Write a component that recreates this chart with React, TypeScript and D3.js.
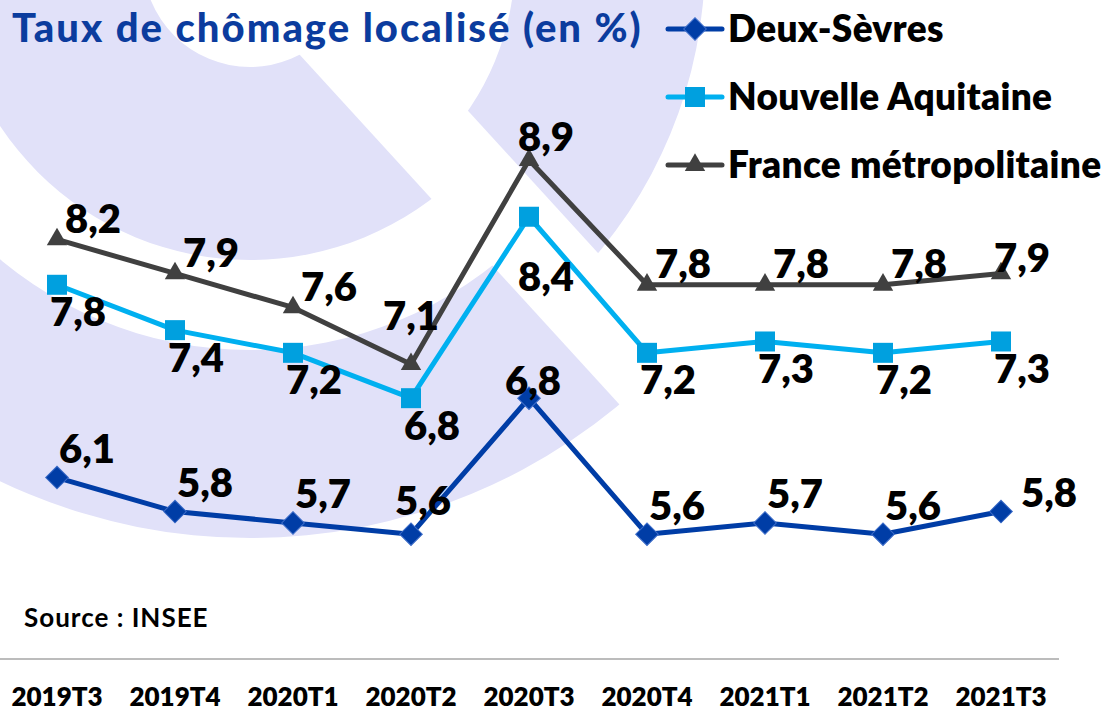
import React, { useRef, useEffect } from "react";
import * as d3 from "d3";

const WIDTH = 1109;
const HEIGHT = 711;
const FONT = "Lato, 'Noto Sans', 'Open Sans', sans-serif";

const COLOR_BG = "#e1e1f9";
const COLOR_TITLE = "#0b3c9e";
const COLOR_AXIS = "#a6a6a6";

// data
const categories = [
  "2019T3",
  "2019T4",
  "2020T1",
  "2020T2",
  "2020T3",
  "2020T4",
  "2021T1",
  "2021T2",
  "2021T3",
];
const deuxSevres = [6.1, 5.8, 5.7, 5.6, 6.8, 5.6, 5.7, 5.6, 5.8];
const nouvelleAquitaine = [7.8, 7.4, 7.2, 6.8, 8.4, 7.2, 7.3, 7.2, 7.3];
const franceMetro = [8.2, 7.9, 7.6, 7.1, 8.9, 7.8, 7.8, 7.8, 7.9];
const seriesNames = ["Deux-Sèvres", "Nouvelle Aquitaine", "France métropolitaine"];

const TITLE = "Taux de chômage localisé (en %)";
const SOURCE = "Source : INSEE";

// styles for each series (label offsets are px, relative to the point)
const SERIES_STYLE = [
  {
    line: "#003da6",
    marker: "#003da6",
    stroke: "#3c6cc8",
    symbol: "diamond",
    labelOffset: [30, -29],
    labelOverrides: { 3: [12, -34], 4: [4, -18], 8: [48, -19] },
  },
  {
    line: "#00b0f0",
    marker: "#00a0df",
    stroke: "none",
    symbol: "square",
    labelOffset: [21, 27],
    labelOverrides: { 4: [17, 60] },
  },
  {
    line: "#404040",
    marker: "#404040",
    stroke: "none",
    symbol: "triangle",
    labelOffset: [36, -21],
    labelOverrides: { 3: [0, -49], 4: [17, -23], 8: [21, -16] },
  },
];

const markerPath = (kind) => {
  if (kind === "square") return d3.symbol(d3.symbolSquare, 400)();
  if (kind === "triangle") return d3.symbol(d3.symbolTriangle, 180)();
  return d3.symbol(d3.symbolSquare, 256)();
};

const addMarker = (g, kind, style, cx, cy) => {
  g.append("path")
    .attr("d", markerPath(kind))
    .attr(
      "transform",
      `translate(${cx},${cy})` + (kind === "diamond" ? " rotate(45)" : "")
    )
    .attr("fill", style.marker)
    .attr("stroke", style.stroke)
    .attr("stroke-width", 1);
};

// the big lavender rings behind the chart
const addBackground = (svg) => {
  const [cx, cy] = [250, -40];
  const cutX = (y) => 300 + (y - 55) / 1.094;
  const gap = 117;

  const defs = svg.append("defs");
  defs
    .append("clipPath")
    .attr("id", "leftCut")
    .append("polygon")
    .attr(
      "points",
      [
        [-20, -20],
        [cutX(-20), -20],
        [cutX(800), 800],
        [-20, 800],
      ].join(" ")
    );
  defs
    .append("clipPath")
    .attr("id", "rightCut")
    .append("polygon")
    .attr(
      "points",
      [
        [cutX(-20) + gap, -20],
        [1200, -20],
        [1200, 800],
        [cutX(800) + gap, 800],
      ].join(" ")
    );

  const ring = d3.arc();
  const rings = [
    { inner: 107, outer: 300, clip: "leftCut" },
    { inner: 390, outer: 578, clip: "leftCut" },
    { inner: 265, outer: 455, clip: "rightCut" },
  ];
  rings.forEach((r) => {
    svg
      .append("g")
      .attr("clip-path", `url(#${r.clip})`)
      .append("path")
      .attr("transform", `translate(${cx},${cy})`)
      .attr(
        "d",
        ring({
          innerRadius: r.inner,
          outerRadius: r.outer,
          startAngle: 0,
          endAngle: 2 * Math.PI,
        })
      )
      .attr("fill", COLOR_BG);
  });
};

export default function App() {
  const chartDomNode = useRef(null);

  useEffect(() => {
    const node = chartDomNode.current;
    if (!node) return;
    node.innerHTML = "";

    const svg = d3
      .select(node)
      .append("svg")
      .attr("width", WIDTH)
      .attr("height", HEIGHT)
      .style("display", "block")
      .style("background", "#ffffff");

    addBackground(svg);

    const x = d3.scaleBand().domain(categories).range([-2, 1060]).padding(0);
    const y = d3.scaleLinear().domain([4.5, 9.5]).range([659, 92]);
    const cx = (c) => x(c) + x.bandwidth() / 2;

    // x axis
    const xAxis = d3.axisBottom(x).tickSize(0).tickPadding(0);
    svg
      .append("g")
      .attr("transform", `translate(0,${y(4.5)})`)
      .call(xAxis)
      .call((g) => {
        g.select(".domain")
          .attr("d", `M0,0H${x.range()[1] - 1}`)
          .attr("stroke", COLOR_AXIS)
          .attr("stroke-width", 1.5);
        g.selectAll(".tick text")
          .attr("y", 47)
          .attr("dy", null)
          .attr("fill", "#000")
          .style("font-family", FONT)
          .style("font-weight", 800)
          .style("font-size", "26px");
      });

    // source
    svg
      .append("text")
      .attr("x", 24)
      .attr("y", 627)
      .style("font-family", FONT)
      .style("font-weight", 700)
      .style("font-size", "26px")
      .style("letter-spacing", "1px")
      .text(SOURCE);

    const allSeries = [deuxSevres, nouvelleAquitaine, franceMetro];
    const line = d3
      .line()
      .x((d, i) => cx(categories[i]))
      .y((d) => y(d));

    allSeries.forEach((values, s) => {
      const style = SERIES_STYLE[s];
      const g = svg.append("g");
      g.append("path")
        .datum(values)
        .attr("fill", "none")
        .attr("stroke", style.line)
        .attr("stroke-width", 5)
        .attr("stroke-linejoin", "round")
        .attr("d", line);
      values.forEach((v, i) => {
        addMarker(g, style.symbol, style, cx(categories[i]), y(v));
      });
    });

    // data labels on top
    allSeries.forEach((values, s) => {
      const style = SERIES_STYLE[s];
      svg
        .append("g")
        .selectAll("text")
        .data(values)
        .enter()
        .append("text")
        .attr("x", (d, i) => cx(categories[i]) + (style.labelOverrides[i] || style.labelOffset)[0])
        .attr("y", (d, i) => y(d) + (style.labelOverrides[i] || style.labelOffset)[1])
        .attr("dy", "0.36em")
        .attr("text-anchor", "middle")
        .style("font-family", FONT)
        .style("font-weight", 800)
        .style("font-size", "40px")
        .text((d) => d3.format(".1f")(d).replace(".", ","));
    });

    // legend
    const legendY = [29, 97, 165];
    seriesNames.forEach((name, s) => {
      const style = SERIES_STYLE[s];
      const g = svg.append("g").attr("transform", `translate(0,${legendY[s]})`);
      g.append("line")
        .attr("x1", 668)
        .attr("x2", 722)
        .attr("stroke", style.line)
        .attr("stroke-width", 5)
        .attr("stroke-linecap", "round");
      addMarker(g, style.symbol, style, 695, 0);
      g.append("text")
        .attr("x", 728)
        .attr("y", 13)
        .style("font-family", FONT)
        .style("font-weight", 800)
        .style("font-size", "37px")
        .style("letter-spacing", "0.3px")
        .text(name);
    });

    // title
    svg
      .append("text")
      .attr("x", 12)
      .attr("y", 42)
      .attr("fill", COLOR_TITLE)
      .style("font-family", FONT)
      .style("font-weight", 900)
      .style("font-size", "40px")
      .style("letter-spacing", "2px")
      .text(TITLE);
  }, []);

  return (
    <div ref={chartDomNode} style={{ position: "absolute", left: 0, top: 0 }} />
  );
}
